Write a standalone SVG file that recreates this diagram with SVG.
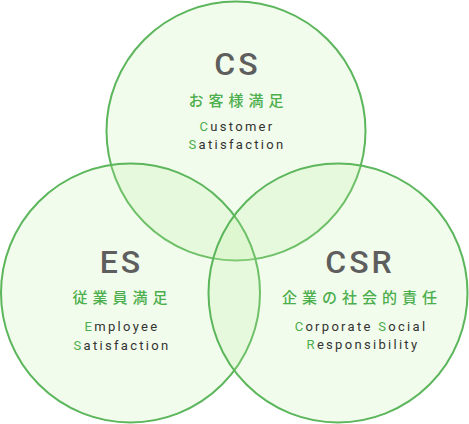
<svg xmlns="http://www.w3.org/2000/svg" width="469" height="424" viewBox="0 0 469 424">
<style>
.c{fill:rgb(190,240,160);fill-opacity:0.2;stroke:#5cb65c;stroke-width:2}
.t{font-family:Roboto,"Liberation Sans",sans-serif;font-size:32px;font-weight:500;fill:#5e5e5e;letter-spacing:3px;text-anchor:middle}
.j{font-family:"Noto Sans CJK JP","Noto Sans",sans-serif;font-size:15px;font-weight:500;fill:#4cae4c;letter-spacing:5px;text-anchor:middle}
.e{font-family:Roboto,"Liberation Sans",sans-serif;font-size:13px;fill:#333;letter-spacing:2.3px;text-anchor:middle}
.g{fill:#4cae4c}
</style>
<rect width="469" height="424" fill="#fff"/>
<g id="circles">
<circle class="c" cx="236" cy="131" r="129.5"/>
<circle class="c" cx="130.5" cy="293" r="129.5"/>
<circle class="c" cx="338" cy="293" r="129.5"/>
</g>
<g id="cs">
<text class="t" x="237.5" y="75">CS</text>
<text class="j" x="238.5" y="106">お客様満足</text>
<text class="e" x="237" y="131"><tspan class="g">C</tspan>ustomer</text>
<text class="e" x="237" y="149"><tspan class="g">S</tspan>atisfaction</text>
</g>
<g id="es">
<text class="t" x="121.5" y="273">ES</text>
<text class="j" x="122.5" y="303">従業員満足</text>
<text class="e" x="122" y="331"><tspan class="g">E</tspan>mployee</text>
<text class="e" x="122" y="350"><tspan class="g">S</tspan>atisfaction</text>
</g>
<g id="csr">
<text class="t" x="360" y="273">CSR</text>
<text class="j" x="362" y="303">企業の社会的責任</text>
<text class="e" x="361" y="331"><tspan class="g">C</tspan>orporate <tspan class="g">S</tspan>ocial</text>
<text class="e" x="363" y="349"><tspan class="g">R</tspan>esponsibility</text>
</g>
</svg>
